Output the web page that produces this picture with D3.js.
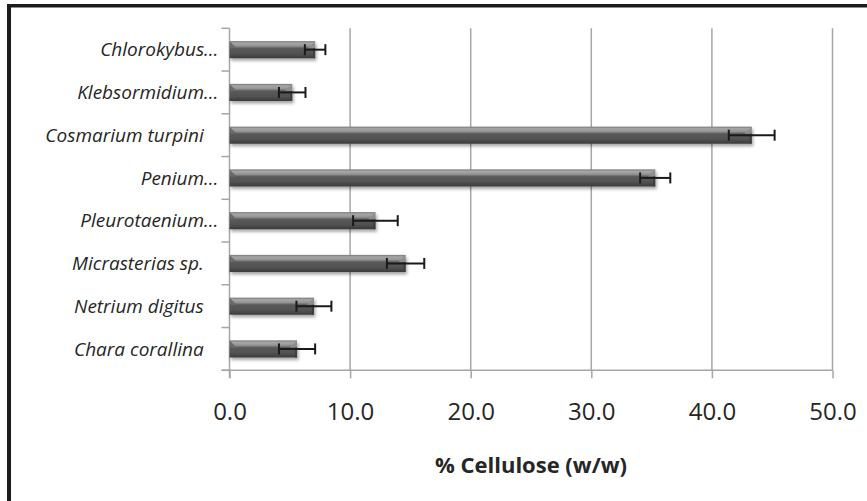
<!DOCTYPE html>
<html>
<head>
<meta charset="utf-8">
<script src="https://cdn.jsdelivr.net/npm/d3@7"></script>
<style>
  html, body { margin: 0; padding: 0; background: #fff; }
  svg { display: block; }
  text { font-family: "Open Sans", "Noto Sans", sans-serif; fill: #262626; }
</style>
</head>
<body>
<svg id="chart" width="867" height="501"></svg>
<script>
// Species (top to bottom), mean cellulose content and standard deviation
const categories = [
  "Chlorokybus\u2026",
  "Klebsormidium\u2026",
  "Cosmarium turpini\u00a0\u00a0\u00a0",
  "Penium\u2026",
  "Pleurotaenium\u2026",
  "Micrasterias sp.\u00a0\u00a0\u00a0",
  "Netrium digitus\u00a0\u00a0\u00a0",
  "Chara corallina\u00a0\u00a0\u00a0"
];
const values = [7.1, 5.2, 43.3, 35.3, 12.1, 14.6, 7.0, 5.6];
const errors = [0.85, 1.1, 1.9, 1.25, 1.85, 1.55, 1.45, 1.5];
const xTicks = [0, 10, 20, 30, 40, 50];
const axisTitle = "% Cellulose (w/w)";

const svg = d3.select("#chart");
const margin = { left: 229.5, right: 34.5, top: 28.3, bottom: 130.7 };
const W = 867, H = 501;
const plotBottom = H - margin.bottom;

const x = d3.scaleLinear().domain([0, 50]).range([margin.left, W - margin.right]);
const y = d3.scaleBand().domain(categories).range([margin.top, plotBottom]).paddingInner(0.6).paddingOuter(0.3);

// Frame lines on top and left
svg.append("rect").attr("x", 7).attr("y", 4).attr("width", W - 7).attr("height", 3.5).attr("fill", "#1c1c1c");
svg.append("rect").attr("x", 7).attr("y", 4).attr("width", 4).attr("height", H - 4).attr("fill", "#1c1c1c");

const defs = svg.append("defs");
const grad = defs.append("linearGradient").attr("id", "barGrad").attr("x1", 0).attr("y1", 0).attr("x2", 0).attr("y2", 1);
[[0, "#777"], [0.12, "#a6a6a6"], [0.28, "#959595"], [0.42, "#5a5a5a"], [0.75, "#515151"], [1, "#3a3a3a"]]
  .forEach(([o, c]) => grad.append("stop").attr("offset", o).attr("stop-color", c));
const shadow = defs.append("filter").attr("id", "barShadow").attr("x", "-5%").attr("y", "-40%").attr("width", "115%").attr("height", "200%");
shadow.append("feDropShadow").attr("dx", 1.5).attr("dy", 2.5).attr("stdDeviation", 1.6).attr("flood-color", "#000").attr("flood-opacity", 0.35);

// Vertical gridlines
svg.append("g").selectAll("line").data(xTicks.filter(d => d > 0)).join("line")
  .attr("x1", d => x(d)).attr("x2", d => x(d))
  .attr("y1", margin.top).attr("y2", plotBottom)
  .attr("stroke", "#a6a6a6").attr("stroke-width", 1.5);

// Horizontal axis
const xAxis = svg.append("g").attr("transform", `translate(0,${plotBottom})`)
  .call(d3.axisBottom(x).tickValues(xTicks).tickFormat(d3.format(".1f")).tickSize(8).tickSizeOuter(0).tickPadding(25));
xAxis.select(".domain").attr("stroke", "#a6a6a6").attr("stroke-width", 1.5).attr("d", `M${margin.left - 8},0H${x(50)}`);
xAxis.selectAll(".tick line").attr("stroke", "#a6a6a6").attr("stroke-width", 1.5);
xAxis.selectAll(".tick text").attr("font-size", 24).attr("fill", "#262626")
  .attr("font-family", '"Open Sans", sans-serif');

// Vertical axis with ticks at category boundaries
const edges = d3.range(categories.length + 1).map(i => margin.top + i * (plotBottom - margin.top) / categories.length);
const yAxisG = svg.append("g");
yAxisG.append("line").attr("x1", margin.left).attr("x2", margin.left)
  .attr("y1", margin.top).attr("y2", plotBottom + 8).attr("stroke", "#a6a6a6").attr("stroke-width", 1.5);
yAxisG.selectAll("line.tk").data(edges).join("line").attr("class", "tk")
  .attr("x1", margin.left - 8).attr("x2", margin.left)
  .attr("y1", d => d).attr("y2", d => d).attr("stroke", "#a6a6a6").attr("stroke-width", 1.5);

// Category labels
svg.append("g").selectAll("text").data(categories).join("text")
  .attr("x", margin.left - 11)
  .attr("y", d => y(d) + y.bandwidth() / 2)
  .attr("dy", "0.35em")
  .attr("text-anchor", "end")
  .attr("font-size", 19)
  .attr("font-style", "italic")
  .text(d => d);

// Bars
const bars = svg.append("g").selectAll("g.bar").data(categories).join("g").attr("class", "bar");
bars.append("rect")
  .attr("x", x(0)).attr("y", d => y(d))
  .attr("width", (d, i) => x(values[i]) - x(0)).attr("height", y.bandwidth())
  .attr("fill", "url(#barGrad)").attr("filter", "url(#barShadow)");
// bevelled right end
bars.append("path")
  .attr("d", (d, i) => {
    const xe = x(values[i]), y0 = y(d), h = y.bandwidth(), b = h * 0.42;
    return `M${xe},${y0}L${xe},${y0 + b}L${xe - b},${y0 + b}Z`;
  })
  .attr("fill", "#8e8e8e");
bars.append("path")
  .attr("d", (d, i) => {
    const xe = x(values[i]), y0 = y(d), h = y.bandwidth(), b = h * 0.42;
    return `M${xe},${y0 + b}L${xe},${y0 + h}L${xe - 2},${y0 + h}L${xe - 2},${y0 + b}Z`;
  })
  .attr("fill", "#3e3e3e");
// left bevel
bars.append("path")
  .attr("d", (d) => {
    const x0 = x(0), y0 = y(d), h = y.bandwidth(), b = h * 0.42;
    return `M${x0},${y0}L${x0 + b},${y0 + b}L${x0},${y0 + b}Z`;
  })
  .attr("fill", "#6a6a6a");

// Error bars
const eb = svg.append("g").attr("stroke", "#1a1a1a").attr("stroke-width", 2);
categories.forEach((c, i) => {
  const cy = y(c) + y.bandwidth() / 2;
  const lo = x(values[i] - errors[i]), hi = x(values[i] + errors[i]);
  eb.append("line").attr("x1", lo).attr("x2", hi).attr("y1", cy).attr("y2", cy);
  eb.append("line").attr("x1", lo).attr("x2", lo).attr("y1", cy - 5.5).attr("y2", cy + 5.5);
  eb.append("line").attr("x1", hi).attr("x2", hi).attr("y1", cy - 5.5).attr("y2", cy + 5.5);
});

// Axis title
svg.append("text")
  .attr("x", (x(0) + x(50)) / 2).attr("y", 465).attr("dy", "0.35em")
  .attr("text-anchor", "middle").attr("font-size", 22).attr("font-weight", "bold")
  .text(axisTitle);
</script>
</body>
</html>
